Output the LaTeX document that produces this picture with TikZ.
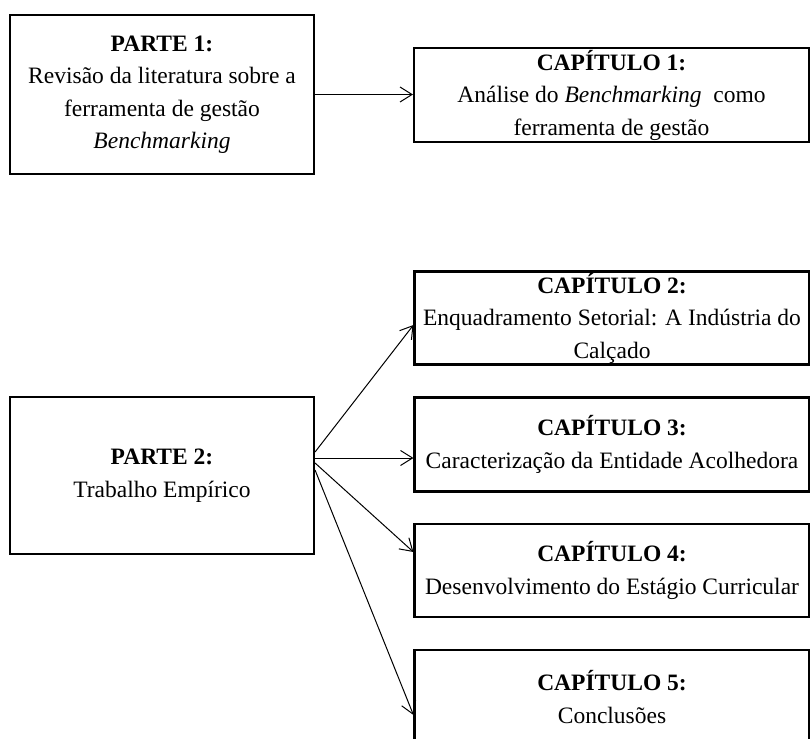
\documentclass[tikz,border=0pt]{standalone}
\usepackage{fontspec}
\setmainfont{Liberation Serif}
\usetikzlibrary{arrows.meta}
\begin{document}
\begin{tikzpicture}[x=1pt,y=-1pt,
  box/.style={draw, line width=2.1pt, rectangle, align=center, inner sep=0pt,
    font=\fontsize{23.5}{32.5}\selectfont},
  partbox/.style={box, minimum width=304pt, minimum height=159pt},
  chapbox/.style={box, minimum width=395pt, minimum height=94pt},
  conn/.style={line width=1pt, -{Straight Barb[length=12pt,width=15pt,line width=1pt]}}]
\useasboundingbox (0,0) rectangle (810,738);
\clip (0,0) rectangle (810,738);

\node[partbox] (p1) at (162,94.5) {\textbf{PARTE 1:}\\Revisão da literatura sobre a\\ferramenta de gestão\\\textit{Benchmarking}};
\node[chapbox] (c1) at (611.5,95) {\textbf{CAPÍTULO 1:}\\Análise do \textit{Benchmarking}\ \ como\\ferramenta de gestão};

\node[partbox, minimum height=157pt] (p2) at (162,475.5) {\textbf{PARTE 2:}\\Trabalho Empírico};

\node[chapbox, minimum height=93pt] (c2) at (612,318) {\textbf{CAPÍTULO 2:}\\Enquadramento Setorial: A Indústria do\\Calçado};
\node[chapbox] (c3) at (612,444.5) {\textbf{CAPÍTULO 3:}\\Caracterização da Entidade Acolhedora};
\node[chapbox, minimum height=93pt] (c4) at (612,570.5) {\textbf{CAPÍTULO 4:}\\Desenvolvimento do Estágio Curricular};
\node[chapbox] (c5) at (612,697) {\textbf{CAPÍTULO 5:}\\Conclusões};

\draw[conn] (p1.east) -- (p1.east -| c1.west);
\draw[conn] ([yshift=23.5pt]p2.east) -- ([yshift=-7pt]c2.west);
\draw[conn] ([yshift=17.5pt]p2.east) -- ([yshift=17.5pt]p2.east -| c3.west);
\draw[conn] ([yshift=12.5pt]p2.east) -- ([yshift=18.5pt]c4.west);
\draw[conn] ([yshift=5.5pt]p2.east) -- ([yshift=-18pt]c5.west);
\end{tikzpicture}
\end{document}
